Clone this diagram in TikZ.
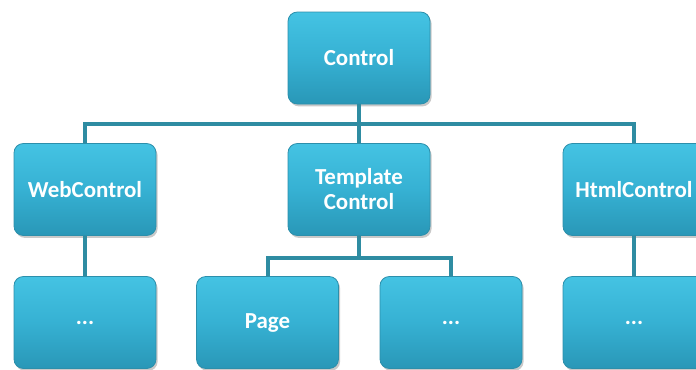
\documentclass[tikz,border=0pt]{standalone}
\usepackage{fontspec}
\setmainfont{Carlito}
\usetikzlibrary{shadows}
\definecolor{boxtop}{HTML}{44C3E3}
\definecolor{boxmid}{HTML}{36B1D3}
\definecolor{boxbot}{HTML}{2997B7}
\definecolor{boxline}{HTML}{2C8FAB}
\definecolor{linkc}{HTML}{2E8CA2}
\begin{document}
\begin{tikzpicture}[x=0.75pt,y=-0.75pt,
  cbox/.style={draw=boxline, line width=0.6pt, rounded corners=7pt,
    top color=boxtop, bottom color=boxbot, middle color=boxmid,
    minimum width=106.5pt, minimum height=69pt, inner sep=0pt,
    text=white, font=\bfseries\fontsize{17.2}{18.75}\selectfont, align=center,
    drop shadow={shadow xshift=1.2pt, shadow yshift=-1.8pt, opacity=0.3, fill=black!70}},
  conn/.style={draw=linkc, line width=3pt}]
\useasboundingbox (0,0) rectangle (696,369);
\clip (0,0) rectangle (696,369);
\node[cbox] (ctrl) at (359,58) {Control};
\node[cbox] (web) at (85,189.5) {WebControl};
\node[cbox] (tmpl) at (359,189.5) {Template\\Control};
\node[cbox] (html) at (634,189.5) {HtmlControl};
\node[cbox] (webc) at (85,322.5) {...};
\node[cbox] (page) at (267.5,322.5) {Page};
\node[cbox] (tdots) at (451,322.5) {...};
\node[cbox] (htmlc) at (634,322.5) {...};
\draw[conn] (ctrl.south) -- (tmpl.north);
\draw[conn] (web.north) -- ++(0,-19) -| (html.north);
\draw[conn] (web.south) -- (webc.north);
\draw[conn] (html.south) -- (htmlc.north);
\draw[conn] (tmpl.south) -- ++(0,22);
\draw[conn] (page.north) -- ++(0,-18) -| (tdots.north);
\end{tikzpicture}
\end{document}
